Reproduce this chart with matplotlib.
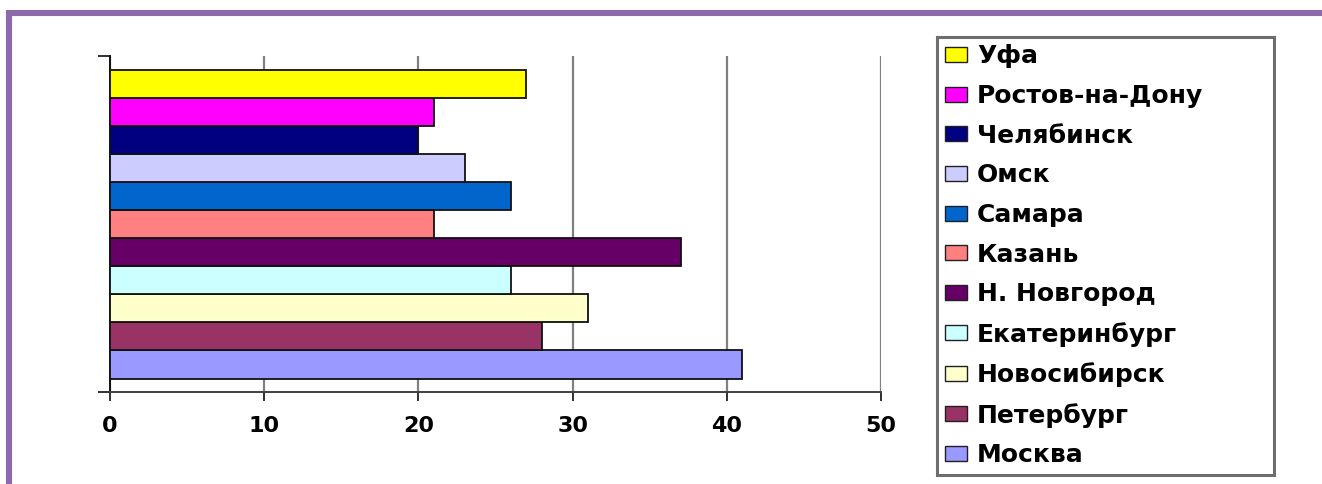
import matplotlib
matplotlib.use("Agg")
import matplotlib.pyplot as plt
from matplotlib.patches import Patch
from matplotlib.lines import Line2D

# Data (bottom to top as drawn)
cities = ["Москва", "Петербург", "Новосибирск", "Екатеринбург", "Н. Новгород",
          "Казань", "Самара", "Омск", "Челябинск", "Ростов-на-Дону", "Уфа"]
values = [41, 28, 31, 26, 37, 21, 26, 23, 20, 21, 27]
colors = ["#9999FF", "#993366", "#FFFFCC", "#CCFFFF", "#660066",
          "#FF8080", "#0066CC", "#CCCCFF", "#000080", "#FF00FF", "#FFFF00"]
xticks = [0, 10, 20, 30, 40, 50]

W, H = 1322, 484
fig = plt.figure(figsize=(W / 100, H / 100), dpi=100)
fig.patch.set_facecolor("white")

ax = fig.add_axes([110 / W, 1 - 392 / H, (881 - 110) / W, (392 - 56) / H])
positions = list(range(len(cities)))
ax.barh(positions, values, height=1.0, color=colors, edgecolor="#101010",
        linewidth=1.3, zorder=3)

ax.set_xlim(0, 50)
ax.set_ylim(-0.98, 11.0)
ax.set_xticks(xticks)
ax.set_xticklabels([str(t) for t in xticks], fontsize=16, fontweight="bold",
                   family="DejaVu Sans")
ax.set_yticks([-0.98, 11.0])
ax.set_yticklabels(["", ""])
ax.tick_params(axis="x", direction="out", length=6.5, width=1.4, pad=11,
               color="#303030")
ax.tick_params(axis="y", direction="out", length=8.5, width=1.4, color="#303030")
ax.grid(axis="x", color="#808080", linewidth=1.6, zorder=0)
ax.set_axisbelow(True)
for s in ["top", "right"]:
    ax.spines[s].set_visible(False)
ax.spines["left"].set_color("#101010")
ax.spines["left"].set_linewidth(1.4)
ax.spines["bottom"].set_color("#404040")
ax.spines["bottom"].set_linewidth(1.4)

# Legend (top to bottom: Уфа ... Москва)
handles = [Patch(facecolor=c, edgecolor="#202020", linewidth=1.0, label=n)
           for n, c in zip(cities[::-1], colors[::-1])]
leg = fig.legend(handles=handles, loc="upper left",
                 bbox_to_anchor=(937 / W, 0, (1274 - 937) / W, 1 - 37 / H),
                 mode="expand", ncol=1, frameon=True, fancybox=False,
                 prop={"family": "DejaVu Sans", "weight": "bold", "size": 18},
                 handlelength=0.9, handleheight=0.55, handletextpad=0.4,
                 labelspacing=0.625, borderpad=0.3, borderaxespad=0)
leg.get_frame().set_edgecolor("#4a4a4a")
leg.get_frame().set_linewidth(2.2)

# Purple frame (top and left)
purple = "#8B69AA"
fig.add_artist(Line2D([6 / W, 1], [1 - 13 / H, 1 - 13 / H], color=purple,
                      linewidth=4.4, transform=fig.transFigure, solid_capstyle="butt"))
fig.add_artist(Line2D([9 / W, 9 / W], [0, 1 - 10 / H], color=purple,
                      linewidth=4.4, transform=fig.transFigure, solid_capstyle="butt"))

fig.savefig("out.png", dpi=100)
